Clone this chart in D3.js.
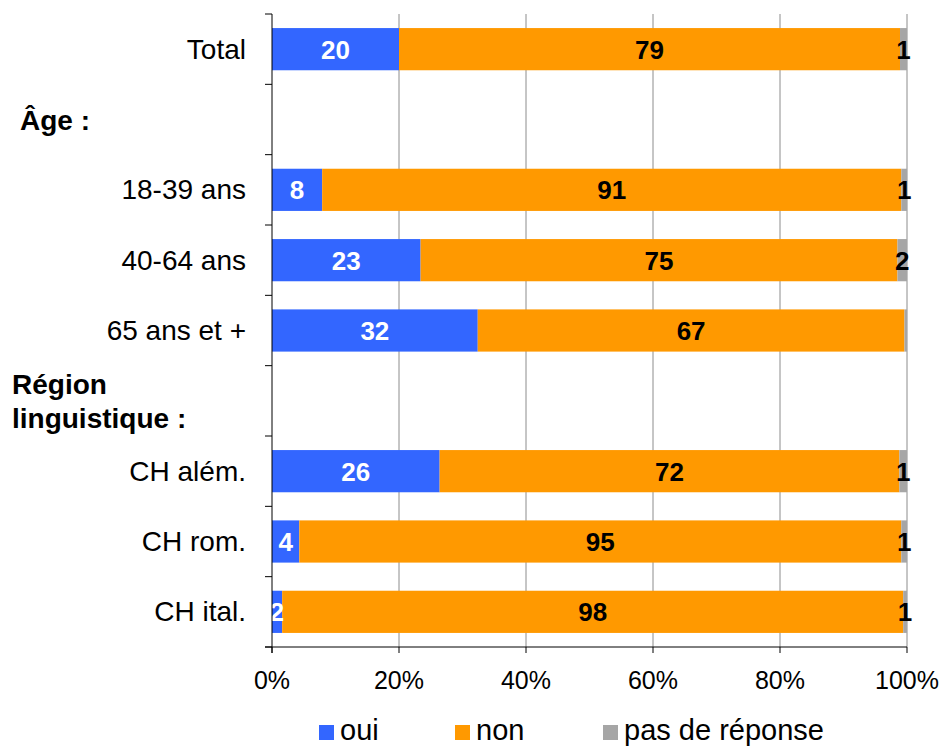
<!DOCTYPE html>
<html><head><meta charset="utf-8">
<script src="https://cdn.jsdelivr.net/npm/d3@7"></script>
<style>body{margin:0;background:#fff}svg{display:block;font-family:"Liberation Sans",Arial,sans-serif}</style>
</head><body><svg id="c" width="943" height="746"></svg>
<script>
const categories = ["Total", "Âge :", "18-39 ans", "40-64 ans", "65 ans et +", "Région linguistique :", "CH além.", "CH rom.", "CH ital."];
const headers = ["Âge :", "Région linguistique :"];
const oui = [20.0, null, 7.9, 23.4, 32.4, null, 26.4, 4.3, 1.6];
const non = [78.9, null, 91.2, 75.1, 67.2, null, 72.4, 94.8, 97.8];
const pasDeReponse = [1.1, null, 0.9, 1.5, 0.4, null, 1.2, 0.9, 0.6];
const seriesNames = ["oui", "non", "pas de réponse"];
const colors = ["#3366FF", "#FF9900", "#A6A6A6"];
const labelColors = ["#fff", "#000", "#000"];
const xTicks = [0, 0.2, 0.4, 0.6, 0.8, 1];

const svg = d3.select("#c");
const L = 272, R = 907, T = 14, B = 647;
const x = d3.scaleLinear().domain([0, 1]).range([L, R]);
const y = d3.scaleBand().domain(categories).range([T, B]).paddingInner(0.4).paddingOuter(0.2);
const step = y.step();

// gridlines
svg.append("g").selectAll("line").data(xTicks.slice(1)).join("line")
  .attr("x1", d => x(d)).attr("x2", d => x(d)).attr("y1", T).attr("y2", B)
  .attr("stroke", "#8c8c8c").attr("stroke-width", 1);

// bars
const data = categories.map((c, i) => ({c, v: [oui[i], non[i], pasDeReponse[i]]})).filter(d => d.v[0] !== null);
data.forEach(d => {
  const tot = d3.sum(d.v);
  let acc = 0;
  d.segs = d.v.map((v, k) => { const s = {k, v, x0: acc / tot, x1: (acc + v) / tot}; acc += v; return s; });
});
const rows = svg.append("g").selectAll("g").data(data).join("g");
rows.selectAll("rect").data(d => d.segs.map(s => ({...s, c: d.c}))).join("rect")
  .attr("x", s => x(s.x0)).attr("width", s => x(s.x1) - x(s.x0))
  .attr("y", s => y(s.c)).attr("height", y.bandwidth())
  .attr("fill", s => colors[s.k]);
rows.selectAll("text").data(d => d.segs.filter(s => s.v >= 0.5).map(s => ({...s, c: d.c}))).join("text")
  .attr("x", s => (x(s.x0) + x(s.x1)) / 2).attr("y", s => y(s.c) + y.bandwidth() / 2)
  .attr("dy", "0.36em").attr("text-anchor", "middle")
  .attr("font-size", 26).attr("font-weight", "bold")
  .attr("fill", s => labelColors[s.k]).text(s => Math.round(s.v));

// y axis
svg.append("line").attr("x1", L).attr("x2", L).attr("y1", T).attr("y2", B + 6).attr("stroke", "#000");
const tickYs = d3.range(categories.length + 1).map(i => T + i * step);
svg.append("g").selectAll("line").data(tickYs).join("line")
  .attr("x1", L - 7).attr("x2", L).attr("y1", d => d).attr("y2", d => d).attr("stroke", "#000");
// x axis
svg.append("line").attr("x1", L - 7).attr("x2", R).attr("y1", B).attr("y2", B).attr("stroke", "#000");
svg.append("g").selectAll("line").data(xTicks).join("line")
  .attr("x1", d => x(d)).attr("x2", d => x(d)).attr("y1", B).attr("y2", B + 6).attr("stroke", "#000");
svg.append("g").selectAll("text").data(xTicks).join("text")
  .attr("x", d => x(d)).attr("y", 689).attr("text-anchor", "middle")
  .attr("font-size", 25).attr("fill", "#000").text(d => d3.format(".0%")(d));

// category labels
categories.forEach(c => {
  const cy = y(c) + y.bandwidth() / 2;
  if (headers.includes(c)) {
    if (c === "Âge :") {
      svg.append("text").attr("x", 20).attr("y", cy).attr("dy", "0.36em")
        .attr("font-size", 28).attr("font-weight", "bold").text(c);
    } else {
      const parts = ["Région", "linguistique :"];
      parts.forEach((p, i) => svg.append("text").attr("x", 12).attr("y", cy + (i - 0.5) * 34).attr("dy", "0.36em")
        .attr("font-size", 28).attr("font-weight", "bold").text(p));
    }
  } else {
    svg.append("text").attr("x", 246).attr("y", cy).attr("dy", "0.34em").attr("text-anchor", "end")
      .attr("font-size", 28).text(c);
  }
});

// legend
const legX = [319, 455, 603];
const lg = svg.append("g").selectAll("g").data(seriesNames).join("g")
  .attr("transform", (d, i) => `translate(${legX[i]},0)`);
lg.append("rect").attr("x", 0).attr("y", 725).attr("width", 15).attr("height", 15).attr("fill", (d, i) => colors[i]);
lg.append("text").attr("x", 21).attr("y", 740).attr("font-size", 29).text(d => d);
</script></body></html>
